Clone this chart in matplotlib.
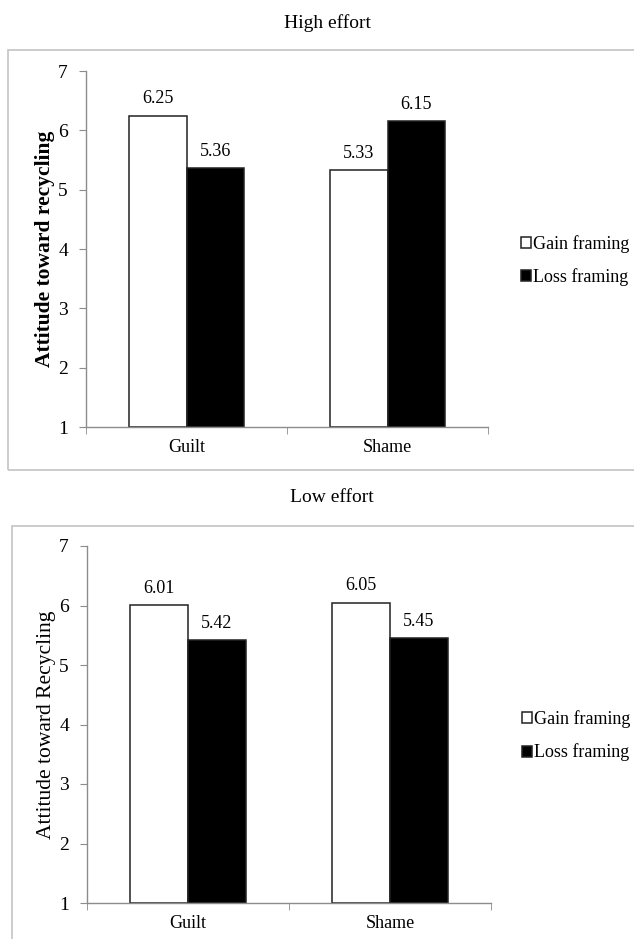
import numpy as np
import matplotlib
matplotlib.use("Agg")
import matplotlib.pyplot as plt
from matplotlib.patches import Rectangle

plt.rcParams['font.family'] = ['Liberation Serif', 'DejaVu Serif']

categories = ["Guilt", "Shame"]
series = ["Gain framing", "Loss framing"]
high_gain = [6.25, 5.33]
high_loss = [5.36, 6.15]
low_gain = [6.01, 6.05]
low_loss = [5.42, 5.45]
y_ticks = [1, 2, 3, 4, 5, 6, 7]

fig = plt.figure(figsize=(6.34, 9.39), dpi=100)

# light grey frames round each panel
fig.patches.append(Rectangle((8 / 634, 1 - 470 / 939), 0.99, 420 / 939,
                             transform=fig.transFigure, fill=False,
                             edgecolor='#c4c4c4', linewidth=1.2))
fig.patches.append(Rectangle((12 / 634, -0.05), 0.99, 1 - 526 / 939 + 0.05,
                             transform=fig.transFigure, fill=False,
                             edgecolor='#c4c4c4', linewidth=1.2))

fig.text(328 / 634, 1 - 23 / 939, "High effort", ha='center', va='center', fontsize=14)
fig.text(332 / 634, 1 - 498 / 939, "Low effort", ha='center', va='center', fontsize=14)

ax1 = fig.add_axes([86 / 634, 1 - 427 / 939, 402 / 634, 356 / 939])
ax2 = fig.add_axes([87 / 634, 1 - 903 / 939, 404 / 634, 357 / 939])


def draw(ax, gain, loss, ylabel, bold, leg_pos):
    x = np.arange(len(categories))
    w = 0.285
    b1 = ax.bar(x - w / 2, np.array(gain) - 1, w, bottom=1, color='white',
                edgecolor='#222222', linewidth=1.1, label=series[0])
    b2 = ax.bar(x + w / 2, np.array(loss) - 1, w, bottom=1, color='black',
                edgecolor='#222222', linewidth=1.1, label=series[1])
    ax.bar_label(b1, labels=[f"{v:.2f}" for v in gain], padding=6, fontsize=13)
    ax.bar_label(b2, labels=[f"{v:.2f}" for v in loss], padding=6, fontsize=13)
    ax.set_xlim(-0.5, len(categories) - 0.5)
    ax.set_ylim(1, 7)
    ax.set_yticks(y_ticks)
    ax.tick_params(axis='y', length=5, pad=8, labelsize=14, color='#8c8c8c')
    ax.set_xticks(x)
    ax.set_xticklabels(categories, fontsize=13)
    ax.set_xticks([-0.5, 0.5, 1.5], minor=True)
    ax.tick_params(axis='x', which='major', length=0, pad=9)
    ax.tick_params(axis='x', which='minor', length=5, color='#8c8c8c')
    for s in ['top', 'right']:
        ax.spines[s].set_visible(False)
    for s in ['left', 'bottom']:
        ax.spines[s].set_color('#8c8c8c')
        ax.spines[s].set_linewidth(1.0)
    ax.set_ylabel(ylabel, fontsize=15.5, fontweight='bold' if bold else 'normal',
                  labelpad=2)
    ax.legend(loc='center left', bbox_to_anchor=leg_pos, frameon=False,
              fontsize=13, handlelength=0.55, handleheight=0.55,
              handletextpad=0.12, labelspacing=0.85, borderpad=0, borderaxespad=0)


draw(ax1, high_gain, high_loss, "Attitude toward recycling", True, (1.082, 0.468))
draw(ax2, low_gain, low_loss, "Attitude toward Recycling", False, (1.077, 0.468))

fig.savefig("out.png", dpi=100)
